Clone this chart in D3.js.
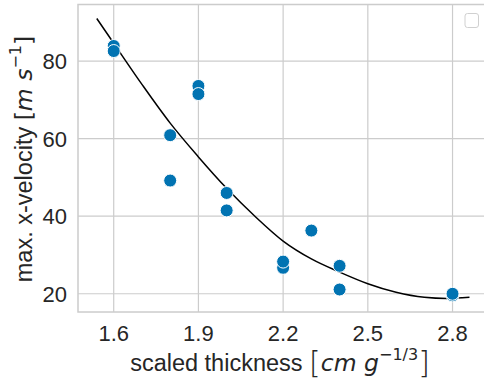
<!DOCTYPE html>
<html>
<head>
<meta charset="utf-8">
<script src="https://d3js.org/d3.v7.min.js"></script>
<style>
  body { margin: 0; background: #fff; }
  svg { font-family: "Liberation Sans", Arial, sans-serif; }
  .math { font-family: "DejaVu Sans", sans-serif; }
</style>
</head>
<body>
<svg id="chart" width="484" height="382"></svg>
<script>
  // measured points
  const thick = [1.6, 1.6, 1.9, 1.9, 1.8, 1.8, 2.0, 2.0, 2.2, 2.2, 2.3, 2.4, 2.4, 2.8, 2.8];
  const velo  = [83.9, 82.6, 73.6, 71.5, 60.9, 49.2, 46.0, 41.5, 26.7, 28.3, 36.3, 27.2, 21.1, 19.6, 20.0];
  // fitted curve
  const fitX = [1.54, 1.6, 1.7, 1.8, 1.9, 2.0, 2.1, 2.2, 2.3, 2.4, 2.5, 2.6, 2.7, 2.78, 2.86];
  const fitY = [91.0, 84.6, 74.0, 64.0, 55.3, 47.2, 40.0, 33.6, 29.0, 25.6, 22.6, 20.4, 19.1, 18.8, 19.1];
  const xTicks = [1.6, 1.9, 2.2, 2.5, 2.8];
  const yTicks = [20, 40, 60, 80];

  const svg = d3.select("#chart");
  const L = 78, R = 485, T = 4.5, B = 312;

  const x = d3.scaleLinear().domain([1.4735, 2.915]).range([L, R]);
  const y = d3.scaleLinear().domain([15.3, 94.6]).range([B, T]);

  // grid
  svg.append("g").selectAll("line").data(xTicks).join("line")
    .attr("x1", d => x(d)).attr("x2", d => x(d))
    .attr("y1", T).attr("y2", B)
    .attr("stroke", "#cccccc").attr("stroke-width", 1.2);
  svg.append("g").selectAll("line").data(yTicks).join("line")
    .attr("x1", L).attr("x2", R)
    .attr("y1", d => y(d)).attr("y2", d => y(d))
    .attr("stroke", "#cccccc").attr("stroke-width", 1.2);

  // frame
  svg.append("rect")
    .attr("x", L).attr("y", T).attr("width", R - L).attr("height", B - T)
    .attr("fill", "none").attr("stroke", "#cccccc").attr("stroke-width", 1.5);

  // tick labels
  svg.append("g").selectAll("text").data(xTicks).join("text")
    .attr("x", d => x(d)).attr("y", 341)
    .attr("text-anchor", "middle")
    .attr("font-size", 22).attr("fill", "#262626")
    .text(d => d3.format(".1f")(d));
  svg.append("g").selectAll("text").data(yTicks).join("text")
    .attr("x", 67).attr("y", d => y(d))
    .attr("dy", "0.36em")
    .attr("text-anchor", "end")
    .attr("font-size", 22).attr("fill", "#262626")
    .text(d => d);

  // fit line
  const line = d3.line().x(d => x(d[0])).y(d => y(d[1])).curve(d3.curveMonotoneX);
  svg.append("path")
    .datum(fitX.map((v, i) => [v, fitY[i]]))
    .attr("d", line)
    .attr("fill", "none").attr("stroke", "#000").attr("stroke-width", 1.5);

  // scatter
  svg.append("g").selectAll("circle").data(thick).join("circle")
    .attr("cx", d => x(d))
    .attr("cy", (d, i) => y(velo[i]))
    .attr("r", 6.5)
    .attr("fill", "#0173b2")
    .attr("stroke", "#fff").attr("stroke-width", 1);

  // empty legend box
  svg.append("rect")
    .attr("x", 465).attr("y", 13.5).attr("width", 13.5).attr("height", 14)
    .attr("rx", 2.5)
    .attr("fill", "#fff").attr("stroke", "#d0d0d0").attr("stroke-width", 1);

  // axis labels
  const xl = svg.append("text")
    .attr("x", 280).attr("y", 371)
    .attr("text-anchor", "middle")
    .attr("font-size", 23.5).attr("fill", "#262626");
  xl.append("tspan").text("scaled thickness ");
  xl.append("tspan").attr("class", "math").attr("font-weight", 200).attr("font-size", 30).attr("dy", 2).text("[");
  xl.append("tspan").attr("class", "math").attr("font-style", "italic").attr("font-size", 23.5).attr("dy", -2).text("cm g");
  xl.append("tspan").attr("class", "math").attr("font-size", 16).attr("dy", -11).text("\u22121/3");
  xl.append("tspan").attr("class", "math").attr("font-weight", 200).attr("font-size", 30).attr("dy", 13).text("]");

  const yl = svg.append("text")
    .attr("transform", "translate(32,159) rotate(-90)")
    .attr("text-anchor", "middle")
    .attr("font-size", 23.5).attr("fill", "#262626");
  yl.append("tspan").text("max. x-velocity ");
  yl.append("tspan").attr("class", "math").text("[");
  yl.append("tspan").attr("class", "math").attr("font-style", "italic").text("m s");
  yl.append("tspan").attr("class", "math").attr("font-size", 16).attr("dy", -11).text("\u22121");
  yl.append("tspan").attr("class", "math").attr("dy", 11).text("]");
</script>
</body>
</html>
